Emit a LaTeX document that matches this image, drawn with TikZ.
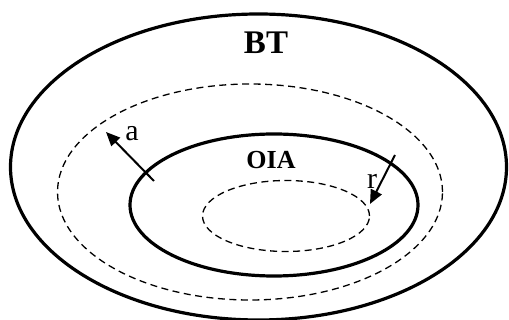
\documentclass[tikz,border=0pt]{standalone}
\usepackage{fontspec}
\setmainfont{Liberation Serif}
\usetikzlibrary{shapes.geometric,arrows.meta}
\begin{document}
\begin{tikzpicture}[x=1pt,y=-1pt,
  solidell/.style={ellipse,draw,line width=3.2pt,inner sep=0pt},
  dashell/.style={ellipse,draw,line width=1.3pt,dash pattern=on 7pt off 4.5pt,inner sep=0pt},
  radarrow/.style={line width=2pt,-{Triangle[length=14pt,width=12pt]}},
  bigtxt/.style={font=\fontsize{33}{33}\selectfont\bfseries},
  midtxt/.style={font=\fontsize{26}{26}\selectfont\bfseries},
  lbl/.style={font=\fontsize{30}{30}\selectfont}]
\useasboundingbox (0,0) rectangle (509,320);
\node[solidell,minimum width=496pt,minimum height=306pt] (bt) at (258.5,167) {};
\node[dashell,minimum width=385pt,minimum height=216pt] (outdash) at (250,192) {};
\node[solidell,minimum width=288pt,minimum height=142pt] (oia) at (274,205) {};
\node[dashell,minimum width=167pt,minimum height=71pt] (indash) at (286,216) {};
\node[bigtxt] (btlabel) at (266,43) {BT};
\node[midtxt] (oialabel) at (271,160) {OIA};
\coordinate (astart) at (154,181);
\coordinate (aend) at (106,132);
\coordinate (rstart) at (395,155);
\coordinate (rend) at (370,204);
\draw[radarrow] (astart) -- (aend);
\draw[radarrow] (rstart) -- (rend);
\node[lbl] (alabel) at (132,134) {a};
\node[lbl] (rlabel) at (372,181) {r};
\end{tikzpicture}
\end{document}
